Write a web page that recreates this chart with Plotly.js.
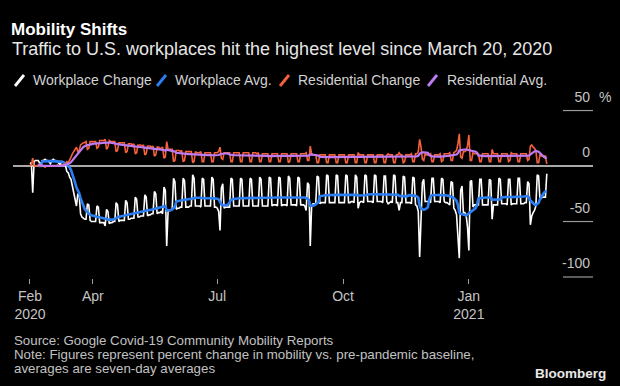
<!DOCTYPE html>
<html>
<head>
<meta charset="utf-8">
<script src="https://cdn.plot.ly/plotly-3.0.1.min.js"></script>
<style>
  html, body { margin: 0; padding: 0; background: #000; }
  #chart { width: 620px; height: 386px; }
</style>
</head>
<body>
<div id="chart"></div>
<script>
// ---------------- DATA ----------------
// Daily values starting Sat 2020-02-15 (one row = one week, Sat..Fri)
const startDate = '2020-02-15';

const workplaceChange = [
  2,3,-24,4,5,5,5,
  3,2,5,5,6,5,5,
  3,2,5,6,5,5,4,
  2,1,4,4,3,0,-5,
  -6,-10,-12,-18,-24,-30,-36,
  -25,-26,-43,-46,-47,-48,-48,
  -34,-35,-49,-50,-50,-50,-50,
  -36,-37,-51,-51,-51,-51,-54,
  -39,-41,-52,-51,-51,-50,-50,
  -33,-35,-50,-49,-49,-49,-49,
  -31,-33,-48,-48,-47,-47,-47,
  -28,-30,-46,-46,-45,-45,-45,
  -26,-28,-45,-44,-44,-43,-43,
  -23,-25,-43,-42,-42,-41,-43,
  -19,-22,-72,-41,-40,-40,-39,
  -11,-14,-39,-38,-38,-37,-37,
  -11,-13,-37,-37,-37,-36,-36,
  -8,-11,-36,-36,-36,-36,-37,
  -11,-12,-36,-36,-36,-36,-36,
  -10,-12,-37,-37,-38,-41,-58,
  -20,-16,-38,-37,-37,-37,-37,
  -11,-12,-36,-36,-36,-36,-36,
  -11,-12,-36,-36,-36,-36,-36,
  -11,-12,-36,-36,-36,-36,-36,
  -10,-12,-36,-36,-36,-36,-36,
  -10,-11,-36,-35,-35,-35,-36,
  -10,-11,-36,-35,-35,-35,-36,
  -9,-11,-35,-35,-35,-35,-36,
  -10,-11,-35,-35,-35,-36,-40,
  -15,-17,-72,-36,-34,-34,-34,
  -9,-10,-34,-33,-33,-33,-33,
  -8,-9,-33,-33,-33,-33,-33,
  -8,-9,-33,-33,-33,-33,-33,
  -8,-9,-33,-33,-32,-32,-33,
  -8,-10,-38,-33,-32,-32,-33,
  -8,-9,-32,-32,-32,-32,-33,
  -8,-9,-32,-32,-32,-32,-33,
  -9,-9,-32,-34,-33,-32,-33,
  -8,-9,-33,-33,-40,-33,-33,
  -9,-10,-33,-33,-33,-33,-34,
  -10,-11,-35,-36,-41,-82,-55,
  -15,-12,-32,-32,-32,-32,-33,
  -11,-11,-32,-32,-32,-32,-33,
  -11,-12,-32,-33,-33,-34,-35,
  -14,-15,-38,-40,-44,-60,-83,
  -22,-18,-42,-42,-44,-55,-76,
  -14,-13,-37,-35,-35,-35,-35,
  -12,-12,-35,-35,-35,-35,-35,
  -12,-13,-48,-35,-35,-35,-35,
  -11,-12,-34,-34,-34,-34,-35,
  -12,-12,-35,-34,-34,-34,-34,
  -11,-11,-34,-34,-34,-33,-33,
  -14,-16,-53,-45,-42,-40,-36,
  -8,-9,-30,-29,-28,-28,-28,
  -7
];

const workplaceAvg = [
  null,null,null,null,null,null,0.0,
  0.1,0.0,4.1,4.3,4.4,4.4,4.4,
  4.4,4.4,4.4,4.6,4.4,4.4,4.3,
  4.1,4.0,3.9,3.6,3.3,2.6,1.3,
  0.1,-1.4,-3.7,-6.9,-10.7,-15.0,-19.4,
  -22.1,-24.4,-28.9,-32.9,-36.1,-38.7,-40.4,
  -41.7,-43.0,-43.9,-44.4,-44.9,-45.1,-45.4,
  -45.7,-46.0,-46.3,-46.4,-46.6,-46.7,-47.3,
  -47.7,-48.3,-48.4,-48.4,-48.4,-48.3,-47.7,
  -46.9,-46.0,-45.7,-45.4,-45.1,-45.0,-44.9,
  -44.6,-44.3,-44.0,-43.9,-43.6,-43.3,-43.0,
  -42.6,-42.1,-41.9,-41.6,-41.3,-41.0,-40.7,
  -40.4,-40.1,-40.0,-39.7,-39.6,-39.3,-39.0,
  -38.6,-38.1,-37.9,-37.6,-37.3,-37.0,-37.0,
  -36.4,-36.0,-40.1,-40.0,-39.7,-39.6,-39.0,
  -37.9,-36.7,-32.0,-31.6,-31.3,-30.9,-30.6,
  -30.6,-30.4,-30.1,-30.0,-29.9,-29.7,-29.6,
  -29.1,-28.9,-28.7,-28.6,-28.4,-28.4,-28.6,
  -29.0,-29.1,-29.1,-29.1,-29.1,-29.1,-29.0,
  -28.9,-28.9,-29.0,-29.1,-29.4,-30.1,-33.3,
  -34.7,-35.3,-35.4,-35.4,-35.3,-34.7,-31.7,
  -30.4,-29.9,-29.6,-29.4,-29.3,-29.1,-29.0,
  -29.0,-29.0,-29.0,-29.0,-29.0,-29.0,-29.0,
  -29.0,-29.0,-29.0,-29.0,-29.0,-29.0,-29.0,
  -28.9,-28.9,-28.9,-28.9,-28.9,-28.9,-28.9,
  -28.9,-28.7,-28.7,-28.6,-28.4,-28.3,-28.3,
  -28.3,-28.3,-28.3,-28.3,-28.3,-28.3,-28.3,
  -28.1,-28.1,-28.0,-28.0,-28.0,-28.0,-28.0,
  -28.1,-28.1,-28.1,-28.1,-28.1,-28.3,-28.9,
  -29.6,-30.4,-35.7,-35.9,-35.7,-35.4,-34.6,
  -33.7,-32.7,-27.3,-26.9,-26.7,-26.6,-26.4,
  -26.3,-26.1,-26.0,-26.0,-26.0,-26.0,-26.0,
  -26.0,-26.0,-26.0,-26.0,-26.0,-26.0,-26.0,
  -26.0,-26.0,-26.0,-25.9,-25.7,-25.7,-25.7,
  -25.7,-25.9,-26.6,-26.6,-26.6,-26.6,-26.6,
  -26.6,-26.4,-25.6,-25.4,-25.4,-25.4,-25.4,
  -25.4,-25.4,-25.4,-25.4,-25.4,-25.4,-25.4,
  -25.6,-25.6,-25.6,-25.9,-26.0,-26.0,-26.0,
  -25.9,-25.9,-26.0,-25.9,-26.9,-27.0,-27.0,
  -27.1,-27.3,-27.3,-27.3,-26.3,-26.3,-26.4,
  -26.6,-26.7,-27.0,-27.4,-28.6,-35.6,-38.6,
  -39.3,-39.4,-39.0,-38.4,-37.1,-30.0,-26.9,
  -26.3,-26.1,-26.1,-26.1,-26.1,-26.1,-26.1,
  -26.1,-26.3,-26.3,-26.4,-26.6,-26.9,-27.1,
  -27.6,-28.0,-28.9,-29.9,-31.4,-35.1,-42.0,
  -43.1,-43.6,-44.1,-44.4,-44.4,-43.7,-42.7,
  -41.6,-40.9,-40.1,-39.1,-37.9,-35.0,-29.1,
  -28.9,-28.7,-28.4,-28.4,-28.4,-28.4,-28.4,
  -28.4,-28.6,-30.4,-30.4,-30.4,-30.4,-30.4,
  -30.3,-30.1,-28.1,-28.0,-27.9,-27.7,-27.7,
  -27.9,-27.9,-28.0,-28.0,-28.0,-28.0,-27.9,
  -27.7,-27.6,-27.4,-27.4,-27.4,-27.3,-27.1,
  -27.6,-28.3,-31.0,-32.6,-33.7,-34.7,-35.1,
  -34.3,-33.3,-30.0,-27.7,-25.7,-24.0,-22.9,
  -22.7
];

const residentialChange = [
  0,1,7,0,0,0,1,
  0,0,0,0,-1,0,0,
  0,0,0,0,0,0,1,
  0,0,1,1,1,2,4,
  3,5,8,11,13,15,17,
  13,14,19,20,21,21,22,
  15,16,22,22,22,22,22,
  16,17,23,23,23,23,24,
  15,17,23,22,22,22,22,
  13,14,21,21,21,21,21,
  12,13,20,20,20,19,20,
  11,12,19,19,19,18,19,
  10,11,18,18,18,17,18,
  9,10,17,17,16,16,17,
  7,8,22,15,15,15,15,
  4,5,14,14,14,13,14,
  4,5,13,13,13,13,13,
  3,4,13,12,12,12,13,
  4,4,12,12,12,12,12,
  4,4,12,12,12,13,17,
  7,6,12,12,12,12,12,
  4,4,12,12,12,12,12,
  4,4,12,12,12,12,12,
  4,4,12,12,12,11,12,
  4,4,11,11,11,11,11,
  4,4,11,11,11,11,11,
  4,4,11,11,11,11,11,
  3,4,11,11,11,11,11,
  4,4,11,11,11,11,12,
  5,5,18,11,10,10,10,
  3,3,10,10,10,10,10,
  3,3,10,10,10,10,10,
  3,3,10,10,10,10,10,
  3,3,10,10,10,10,10,
  3,3,12,10,10,10,10,
  3,3,10,10,10,10,10,
  3,3,10,10,10,10,10,
  3,3,10,11,10,10,10,
  3,3,10,10,12,10,10,
  3,4,10,10,10,10,11,
  4,4,11,11,13,24,17,
  6,5,11,10,10,10,11,
  4,4,10,10,10,10,11,
  4,5,11,11,11,11,12,
  5,5,12,13,14,20,29,
  8,7,13,13,14,18,28,
  5,5,12,11,11,11,11,
  4,4,11,11,11,11,11,
  4,4,15,11,11,11,11,
  4,4,11,11,11,11,11,
  4,5,12,11,11,11,11,
  4,4,11,11,11,11,11,
  5,6,18,19,17,16,14,
  3,3,10,9,9,9,9,
  2
];

const residentialAvg = [
  null,null,null,null,null,null,1.3,
  1.3,1.1,0.1,0.1,0.0,0.0,-0.1,
  -0.1,-0.1,-0.1,-0.1,0.0,0.0,0.1,
  0.1,0.1,0.3,0.4,0.6,0.9,1.3,
  1.7,2.4,3.4,4.9,6.6,8.4,10.3,
  11.7,13.0,14.6,15.9,17.0,17.9,18.6,
  18.9,19.1,19.6,19.9,20.0,20.1,20.1,
  20.3,20.4,20.6,20.7,20.9,21.0,21.3,
  21.1,21.1,21.1,21.0,20.9,20.7,20.4,
  20.1,19.7,19.4,19.3,19.1,19.0,18.9,
  18.7,18.6,18.4,18.3,18.1,17.9,17.7,
  17.6,17.4,17.3,17.1,17.0,16.9,16.7,
  16.6,16.4,16.3,16.1,16.0,15.9,15.7,
  15.6,15.4,15.3,15.1,14.9,14.7,14.6,
  14.3,14.0,14.7,14.4,14.3,14.1,13.9,
  13.4,13.0,11.9,11.7,11.6,11.3,11.1,
  11.1,11.1,11.0,10.9,10.7,10.7,10.6,
  10.4,10.3,10.3,10.1,10.0,9.9,9.9,
  10.0,10.0,9.9,9.9,9.9,9.9,9.7,
  9.7,9.7,9.7,9.7,9.7,9.9,10.6,
  11.0,11.3,11.3,11.3,11.3,11.1,10.4,
  10.0,9.7,9.7,9.7,9.7,9.7,9.7,
  9.7,9.7,9.7,9.7,9.7,9.7,9.7,
  9.7,9.7,9.7,9.7,9.7,9.6,9.6,
  9.6,9.6,9.4,9.3,9.1,9.1,9.0,
  9.0,9.0,9.0,9.0,9.0,9.0,9.0,
  9.0,9.0,9.0,9.0,9.0,9.0,9.0,
  8.9,8.9,8.9,8.9,8.9,8.9,8.9,
  9.0,9.0,9.0,9.0,9.0,9.0,9.1,
  9.3,9.4,10.4,10.4,10.3,10.1,9.9,
  9.6,9.3,8.1,8.0,8.0,8.0,8.0,
  8.0,8.0,8.0,8.0,8.0,8.0,8.0,
  8.0,8.0,8.0,8.0,8.0,8.0,8.0,
  8.0,8.0,8.0,8.0,8.0,8.0,8.0,
  8.0,8.0,8.3,8.3,8.3,8.3,8.3,
  8.3,8.3,8.0,8.0,8.0,8.0,8.0,
  8.0,8.0,8.0,8.0,8.0,8.0,8.0,
  8.0,8.0,8.0,8.1,8.1,8.1,8.1,
  8.1,8.1,8.1,8.0,8.3,8.3,8.3,
  8.3,8.4,8.4,8.4,8.1,8.1,8.3,
  8.4,8.4,8.6,8.7,9.1,11.1,12.0,
  12.3,12.4,12.4,12.3,11.9,9.9,9.0,
  8.7,8.6,8.4,8.4,8.4,8.4,8.4,
  8.4,8.6,8.7,8.9,9.0,9.1,9.3,
  9.4,9.4,9.6,9.9,10.3,11.6,14.0,
  14.4,14.7,14.9,14.9,14.9,14.6,14.4,
  14.0,13.7,13.6,13.3,12.9,11.9,9.4,
  9.3,9.1,9.0,9.0,9.0,9.0,9.0,
  9.0,9.0,9.6,9.6,9.6,9.6,9.6,
  9.6,9.6,9.0,9.0,9.0,9.0,9.0,
  9.0,9.1,9.3,9.3,9.3,9.3,9.3,
  9.3,9.1,9.0,9.0,9.0,9.0,9.0,
  9.1,9.4,10.4,11.6,12.4,13.1,13.6,
  13.3,12.9,11.7,10.3,9.1,8.1,7.4,
  7.3
];

const seriesNames = ['Workplace Change', 'Workplace Avg.', 'Residential Change', 'Residential Avg.'];
const xTickDates = ['2020-02-15', '2020-04-01', '2020-07-01', '2020-10-01', '2021-01-01'];
const xTickLabels = ['Feb<br>2020', 'Apr', 'Jul', 'Oct', 'Jan<br>2021'];
const yTickValues = [50, 0, -50, -100];
const yTickLabels = ['50', '0', '-50', '-100'];

// ---------------- BUILD ----------------
function dayString(i) {
  const d = new Date(startDate + 'T00:00:00Z');
  d.setUTCDate(d.getUTCDate() + i);
  return d.toISOString().slice(0, 10);
}
const dates = workplaceChange.map((_, i) => dayString(i));

const colors = ['#ffffff', '#2c7ff2', '#f4613a', '#bf7bf2'];
const widths = [1.6, 2.6, 1.6, 2.2];
const seriesData = [workplaceChange, workplaceAvg, residentialChange, residentialAvg];

const traces = seriesData.map((vals, k) => ({
  type: 'scatter', mode: 'lines',
  x: dates, y: vals, name: seriesNames[k],
  line: { color: colors[k], width: widths[k] },
  hoverinfo: 'skip', showlegend: false, connectgaps: false
}));

// layout geometry (pixels)
const W = 620, H = 386, L = 13, R = 27, T = 85, B = 108;
const PW = W - L - R, PH = H - T - B;
const px2x = px => (px - L) / PW;
const py2y = py => (H - B - py) / PH;

const FONT = 'Liberation Sans, Arial, sans-serif';

const shapes = [];
// short gridline stubs under y labels
yTickValues.forEach(v => {
  if (v !== 0) shapes.push({
    type: 'line', xref: 'paper', yref: 'y', x0: px2x(563), x1: 1, y0: v, y1: v,
    line: { color: '#9a9a9a', width: 1.2 }
  });
});

// legend (slash symbols + text)
const legSym = [15, 157, 280, 428];
const legTxt = [31, 173, 296, 445];
const annotations = [];
seriesNames.forEach((n, k) => {
  shapes.push({
    type: 'line', xref: 'paper', yref: 'paper',
    x0: px2x(legSym[k]), y0: py2y(86), x1: px2x(legSym[k] + 9), y1: py2y(75),
    line: { color: colors[k], width: 2.8 }
  });
  annotations.push({
    xref: 'paper', yref: 'paper', x: px2x(legTxt[k]), y: py2y(80.5),
    xanchor: 'left', yanchor: 'middle', showarrow: false, text: n,
    font: { family: FONT, size: 14, color: '#d2d2d2' }
  });
});

// subtitle
annotations.push({
  xref: 'paper', yref: 'paper', x: px2x(10), y: py2y(48.5), xanchor: 'left', yanchor: 'middle',
  showarrow: false, text: 'Traffic to U.S. workplaces hit the highest level since March 20, 2020',
  font: { family: FONT, size: 18, color: '#e6e6e6' }
});
// percent sign next to top tick
annotations.push({
  xref: 'paper', yref: 'paper', x: px2x(597), y: py2y(97), xanchor: 'left', yanchor: 'middle',
  showarrow: false, text: '%', font: { family: FONT, size: 14, color: '#c4c4c4' }
});
// footer
const footer = [
  ['Source: Google Covid-19 Community Mobility Reports', 340],
  ['Note: Figures represent percent change in mobility vs. pre-pandemic baseline,', 354],
  ['averages are seven-day averages', 368]
];
footer.forEach(([t, y]) => annotations.push({
  xref: 'paper', yref: 'paper', x: px2x(12), y: py2y(y), xanchor: 'left', yanchor: 'middle',
  showarrow: false, text: t, font: { family: FONT, size: 13.3, color: '#c2c2c2' }
}));
annotations.push({
  xref: 'paper', yref: 'paper', x: px2x(608), y: py2y(373.5), xanchor: 'right', yanchor: 'middle',
  showarrow: false, text: '<b>Bloomberg</b>', font: { family: FONT, size: 13.5, color: '#e8e8e8' }
});

const layout = {
  width: W, height: H,
  paper_bgcolor: '#000', plot_bgcolor: '#000',
  margin: { l: L, r: R, t: T, b: B, pad: 0 },
  font: { family: FONT, color: '#c4c4c4' },
  title: {
    text: '<b>Mobility Shifts</b>', x: 11 / W, xanchor: 'left', xref: 'container',
    y: 1 - 29 / H, yanchor: 'middle', yref: 'container',
    font: { family: FONT, size: 17, color: '#ffffff' }
  },
  xaxis: {
    type: 'date', range: ['2020-02-02 14:00', '2021-04-01 19:00'],
    tickvals: xTickDates, ticktext: xTickLabels,
    ticks: 'outside', ticklen: 5, tickwidth: 1, tickcolor: '#a0a0a0',
    showgrid: false, zeroline: false, showline: false,
    tickfont: { family: FONT, size: 14, color: '#c4c4c4' }, fixedrange: true
  },
  yaxis: {
    range: [-100.9, 73.0], side: 'right',
    tickvals: yTickValues, ticktext: yTickLabels,
    ticklabelposition: 'inside top', ticklabelshift: -4, ticks: '',
    showgrid: false, zeroline: true, zerolinecolor: '#a8a8a8', zerolinewidth: 1.5,
    showline: false,
    tickfont: { family: FONT, size: 14, color: '#c4c4c4' }, fixedrange: true
  },
  shapes: shapes,
  annotations: annotations,
  showlegend: false
};

Plotly.newPlot('chart', traces, layout, { displayModeBar: false, staticPlot: true });
</script>
</body>
</html>
